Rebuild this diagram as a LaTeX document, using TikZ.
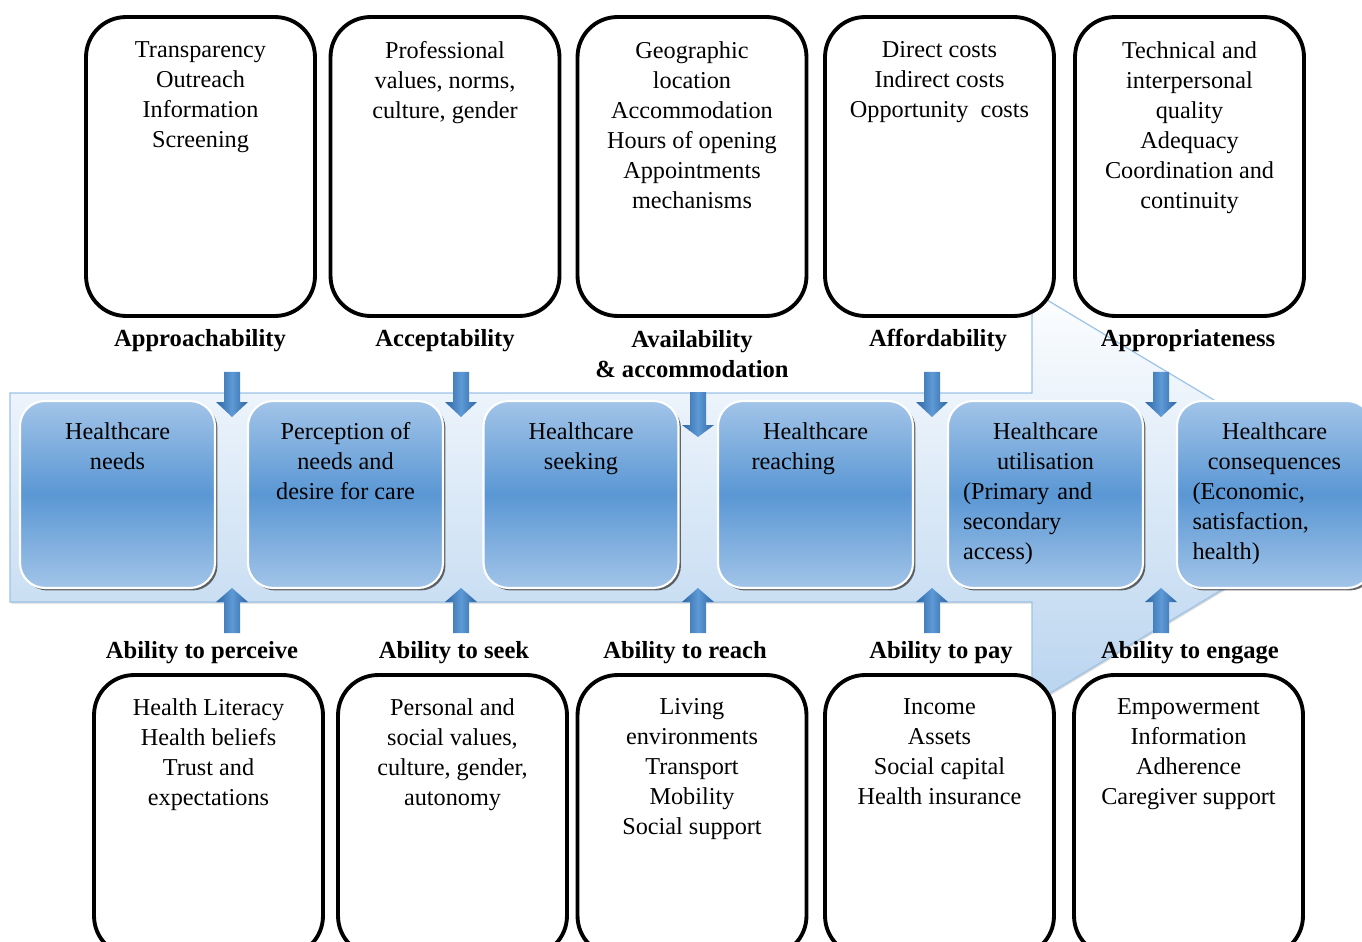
\documentclass[tikz,border=0pt]{standalone}
\usepackage{fontspec}
\setmainfont{Liberation Serif}
\usetikzlibrary{positioning,shadows}
\definecolor{bandtop}{HTML}{FDFEFF}
\definecolor{bandbot}{HTML}{B9D4EF}
\definecolor{bandline}{HTML}{9DC3E6}
\definecolor{stepedge}{HTML}{A2C4E8}
\definecolor{stepmid}{HTML}{5A97D4}
\definecolor{arrdark}{HTML}{2D66A4}
\definecolor{arrlight}{HTML}{5E9AD6}

\begin{document}
\begin{tikzpicture}[x=0.02cm, y=-0.02cm,
		font=\fontsize{13.8}{17.1}\selectfont,
		outerbox/.style={draw, line width=2.2pt, fill=white, rounded corners=0.8cm, minimum width=4.58cm, inner sep=0},
		supbox/.style={outerbox, minimum height=5.98cm},
		dembox/.style={outerbox, minimum height=5.62cm},
		stepbox/.style={rounded corners=0.5cm, minimum width=3.9cm, minimum height=3.74cm, inner sep=0,
			top color=stepedge, bottom color=stepedge, middle color=stepmid, draw=white, line width=1.2pt,
			drop shadow={shadow xshift=0.05cm, shadow yshift=-0.05cm, fill=black!75, opacity=0.8}},
		itemtext/.style={align=center, inner sep=0},
		steptext/.style={align=left, inner sep=0},
		lab/.style={font=\fontsize{14}{17.1}\selectfont\bfseries, inner sep=0},
		blockarrow/.style={left color=arrdark, right color=arrdark, middle color=arrlight}]
	\useasboundingbox (0,0) rectangle (1362,942);
	\clip (0,0) rectangle (1362,942);

	% the big arrow behind everything
	\shade[top color=bandtop, bottom color=bandbot, draw=bandline, line width=0.7pt,
		drop shadow={shadow xshift=0.03cm, shadow yshift=-0.03cm, opacity=0.3}]
		(10,393) -- (1032,393) -- (1032,291) -- (1376,497) -- (1032,704) -- (1032,602) -- (10,602) -- cycle;

	% supply side
	\node (sup1) [supbox] at (200.5,166.5) {};
	\node (sup2) [supbox] at (445,166.5) {};
	\node (sup3) [supbox] at (692,166.5) {};
	\node (sup4) [supbox] at (939.5,166.5) {};
	\node (sup5) [supbox] at (1189.5,166.5) {};
	\node (sup1t) [itemtext, below=0.52cm of sup1.north] {Transparency\\Outreach\\Information\\Screening};
	\node (sup2t) [itemtext, below=0.52cm of sup2.north] {Professional\\values, norms,\\culture, gender};
	\node (sup3t) [itemtext, below=0.52cm of sup3.north] {Geographic\\location\\Accommodation\\Hours of opening\\Appointments\\mechanisms};
	\node (sup4t) [itemtext, below=0.52cm of sup4.north] {Direct costs\\Indirect costs\\Opportunity\ \ costs};
	\node (sup5t) [itemtext, below=0.52cm of sup5.north] {Technical and\\interpersonal\\quality\\Adequacy\\Coordination and\\continuity};

	% demand side
	\node (dem1) [dembox] at (208.5,815.5) {};
	\node (dem2) [dembox] at (452.5,815.5) {};
	\node (dem3) [dembox] at (692,815.5) {};
	\node (dem4) [dembox] at (939.5,815.5) {};
	\node (dem5) [dembox] at (1188.5,815.5) {};
	\node (dem1t) [itemtext, below=0.5cm of dem1.north] {Health Literacy\\Health beliefs\\Trust and\\expectations};
	\node (dem2t) [itemtext, below=0.5cm of dem2.north] {Personal and\\social values,\\culture, gender,\\autonomy};
	\node (dem3t) [itemtext, below=0.5cm of dem3.north] {Living\\environments\\Transport\\Mobility\\Social support};
	\node (dem4t) [itemtext, below=0.5cm of dem4.north] {Income\\Assets\\Social capital\\Health insurance};
	\node (dem5t) [itemtext, below=0.5cm of dem5.north] {Empowerment\\Information\\Adherence\\Caregiver support};

	% steps of care
	\node (hc1) [stepbox] at (117.5,494.5) {};
	\node (hc2) [stepbox] at (345.5,494.5) {};
	\node (hc3) [stepbox] at (581,494.5) {};
	\node (hc4) [stepbox] at (815.5,494.5) {};
	\node (hc5) [stepbox] at (1045.5,494.5) {};
	\node (hc6) [stepbox] at (1274.5,494.5) {};
	\node (hc1t) [itemtext, below=0.44cm of hc1.north] {Healthcare\\needs};
	\node (hc2t) [itemtext, below=0.44cm of hc2.north] {Perception of\\needs and\\desire for care};
	\node (hc3t) [itemtext, below=0.44cm of hc3.north] {Healthcare\\seeking};
	\node (hc4t) [steptext, text width=2.56cm, below=0.44cm of hc4.north] {\hspace*{\fill}Healthcare\hspace*{\fill}\mbox{}\\reaching};
	\node (hc5t) [steptext, text width=3.3cm, below=0.44cm of hc5.north] {\hspace*{\fill}Healthcare\hspace*{\fill}\mbox{}\\\hspace*{\fill}utilisation\hspace*{\fill}\mbox{}\\(Primary and\\secondary\\access)};
	\node (hc6t) [steptext, text width=3.28cm, below=0.44cm of hc6.north] {\hspace*{\fill}Healthcare\hspace*{\fill}\mbox{}\\\hspace*{\fill}consequences\hspace*{\fill}\mbox{}\\(Economic,\\satisfaction,\\health)};

	% dimensions
	\node (app) [lab, anchor=base] at (200,347) {Approachability};
	\node (acc) [lab, anchor=base] at (445,347) {Acceptability};
	\node (ava) [lab, anchor=north, align=center] at (692,330.5) {Availability\\\& accommodation};
	\node (aff) [lab, anchor=base] at (938,347) {Affordability};
	\node (apr) [lab, anchor=base] at (1188,347) {Appropriateness};
	\node (perc) [lab, anchor=base] at (202,658) {Ability to perceive};
	\node (seek) [lab, anchor=base] at (454,658) {Ability to seek};
	\node (reach) [lab, anchor=base] at (685,658) {Ability to reach};
	\node (pay) [lab, anchor=base] at (941,658) {Ability to pay};
	\node (eng) [lab, anchor=base] at (1190,658) {Ability to engage};

	% small block arrows
	\foreach \x in {232,461,932,1161} {
		\shade[blockarrow] (\x-8,372) -- (\x+8,372) -- (\x+8,402) -- (\x+16,402) -- (\x,417) -- (\x-16,402) -- (\x-8,402) -- cycle;
	}
	\shade[blockarrow] (690,392) -- (706,392) -- (706,425) -- (714,425) -- (698,437) -- (682,425) -- (690,425) -- cycle;
	\foreach \x in {232,461,698,932,1161} {
		\shade[blockarrow] (\x,588) -- (\x+16,602) -- (\x+8,602) -- (\x+8,633) -- (\x-8,633) -- (\x-8,602) -- (\x-16,602) -- cycle;
	}
\end{tikzpicture}
\end{document}
